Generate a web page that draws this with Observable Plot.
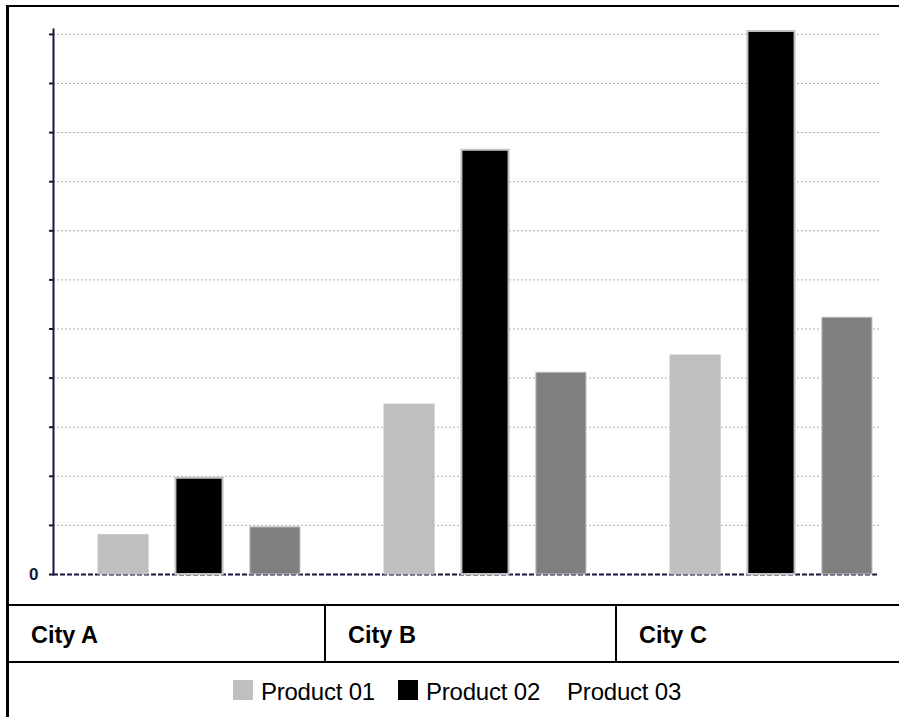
<!DOCTYPE html>
<html>
<head>
<meta charset="utf-8">
<script src="https://cdn.jsdelivr.net/npm/d3@7"></script>
<script src="https://cdn.jsdelivr.net/npm/@observablehq/plot@0.6"></script>
<style>
  html, body { margin: 0; padding: 0; background: #fff; }
  body { font-family: "Liberation Sans", Arial, sans-serif; }
  #wrap { position: relative; width: 899px; height: 717px; overflow: hidden; background: #fff; }
  #chart { position: absolute; left: 0; top: 0; }
  .line { position: absolute; background: #000; }
  #cities { position: absolute; left: 9px; top: 606px; width: 890px; height: 55px; display: flex; }
  .cell { box-sizing: border-box; height: 55px; line-height: 55px; padding-top: 2px; padding-left: 22px;
          font-weight: bold; font-size: 23.5px; color: #000; white-space: nowrap; }
  #legend { position: absolute; left: 9px; top: 663px; width: 890px; height: 54px; box-sizing: border-box;
            padding-left: 6px; padding-top: 2px; line-height: 54px; text-align: center; font-size: 24px;
            letter-spacing: -0.2px; color: #000; white-space: nowrap; }
  .item { display: inline-block; }
  .sw { display: inline-block; width: 20px; height: 20px; margin-right: 8px; vertical-align: baseline; }
</style>
</head>
<body>
<div id="wrap">
  <div id="chart"></div>
  <div class="line" style="left:6px;top:5px;width:893px;height:2px"></div>
  <div class="line" style="left:6px;top:5px;width:3px;height:712px"></div>
  <div class="line" style="left:6px;top:604px;width:893px;height:2px"></div>
  <div class="line" style="left:6px;top:661px;width:893px;height:2px"></div>
  <div id="cities"></div>
  <div id="legend"></div>
</div>
<script>
// ---- data ----
const cities = ["City A", "City B", "City C"];
const products = ["Product 01", "Product 02", "Product 03"];
const product01 = [8, 34.6, 44.6];
const product02 = [19.6, 86.4, 110.6];
const product03 = [9.6, 41.1, 52.3];
const productColors = ["#bfbfbf", "#000000", "#808080"];
const legendSwatch = [true, true, false];
const yTicks = [0, 10, 20, 30, 40, 50, 60, 70, 80, 90, 100, 110];
const yTickLabels = ["0"];
const cityCellWidths = [317, 291, 282];

const series = [product01, product02, product03];
const table = cities.flatMap((city, i) =>
  products.map((product, j) => ({city, product, value: series[j][i]}))
);

// ---- layout ----
const navy = "#161640";
const xRange = [96.7, 872.3];
const cityPadding = 0.294;
const cityBand = d3.scaleBand(cities, xRange).paddingInner(cityPadding).paddingOuter(0);
const groupWidth = cityBand.bandwidth();
const productBand = d3.scaleBand(products, [0, groupWidth]).paddingInner(0.335).paddingOuter(0);

const barMarks = products.map((p, j) => {
  const left = productBand(p);
  const right = groupWidth - left - productBand.bandwidth();
  return Plot.barY(table.filter(d => d.product === p), {
    x: "city",
    y: "value",
    fill: productColors[j],
    stroke: "#c2c2c2",
    strokeWidth: j === 1 ? 2 : 1,
    insetLeft: left + (j === 1 ? 1.5 : 0),
    insetRight: right + (j === 1 ? 1.5 : 0)
  });
});

const chart = Plot.plot({
  width: 899,
  height: 604,
  marginLeft: 53,
  marginRight: 20,
  marginTop: 29,
  marginBottom: 30,
  style: {background: "transparent", fontFamily: "'Liberation Sans', Arial, sans-serif"},
  x: {type: "band", domain: cities, range: xRange, paddingInner: cityPadding, paddingOuter: 0, axis: null},
  y: {domain: [0, 111]},
  marks: [
    Plot.ruleY(yTicks.filter(v => v > 0), {stroke: "#b0b0b0", strokeDasharray: "2,2", strokeWidth: 1}),
    Plot.ruleY([0], {stroke: navy, strokeWidth: 2, strokeDasharray: "5,2"}),
    ...barMarks,
    Plot.axisY({
      ticks: yTicks,
      tickSize: 4,
      tickPadding: 11,
      tickFormat: d => yTickLabels[yTicks.indexOf(d)] ?? "",
      color: navy,
      strokeWidth: 2,
      fontSize: 17,
      fontWeight: "bold",
      label: null
    }),
    Plot.frame({anchor: "left", stroke: navy, strokeWidth: 2})
  ]
});
d3.select(chart).selectAll("text")
  .style("font-size", "17px")
  .style("font-weight", "bold")
  .style("font-family", "'Liberation Sans Narrow', 'Liberation Sans', Arial, sans-serif");
document.getElementById("chart").appendChild(chart);

// ---- category row ----
const citiesDiv = document.getElementById("cities");
cities.forEach((c, i) => {
  const cell = document.createElement("div");
  cell.className = "cell";
  cell.style.width = cityCellWidths[i] + "px";
  if (i < cities.length - 1) cell.style.borderRight = "2px solid #000";
  cell.textContent = c;
  citiesDiv.appendChild(cell);
});

// ---- legend ----
const legend = document.getElementById("legend");
products.forEach((p, j) => {
  const item = document.createElement("span");
  item.className = "item";
  if (j < products.length - 1) item.style.marginRight = (j === 0 ? 23 : 27) + "px";
  if (legendSwatch[j]) {
    const sw = document.createElement("span");
    sw.className = "sw";
    sw.style.background = productColors[j];
    item.appendChild(sw);
  }
  item.appendChild(document.createTextNode(p));
  legend.appendChild(item);
});
</script>
</body>
</html>
